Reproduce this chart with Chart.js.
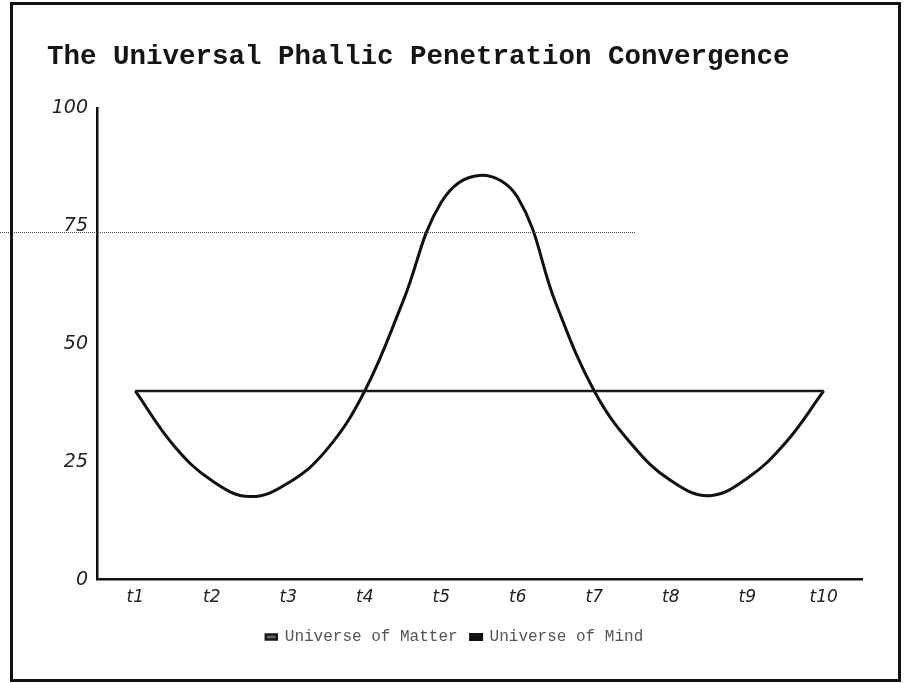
<!DOCTYPE html>
<html>
<head>
<meta charset="utf-8">
<script src="https://cdn.jsdelivr.net/npm/chart.js@4/dist/chart.umd.min.js"></script>
<style>
  html, body { margin: 0; padding: 0; background: #fff; }
  #wrap { position: relative; width: 904px; height: 683px; }
  #frame { position: absolute; left: 10px; top: 2px; width: 885px; height: 674px; border: 3px solid #111; pointer-events: none; }
  #dots { position: absolute; left: 0; top: 232px; width: 635px; height: 0; border-top: 1px dotted #444; pointer-events: none; }
</style>
</head>
<body>
<div id="wrap">
  <canvas id="myChart"></canvas>
  <div id="dots"></div>
  <div id="frame"></div>
</div>
<script>
// данные графика
const categories = ['t1', 't2', 't3', 't4', 't5', 't6', 't7', 't8', 't9', 't10'];
const matterValues = [40, 40, 40, 40, 40, 40, 40, 40, 40, 40]; // Universe of Matter
// Universe of Mind, снято с картинки через каждые пол-шага
const mindSteps = [1, 1.5, 2, 2.5, 3, 3.5, 4, 4.5, 5, 5.5, 6, 6.5, 7, 7.5, 8, 8.5, 9, 9.5, 10];
const mindValues = [40, 28.5, 21, 17.6, 20.5, 27.5, 40, 59, 80, 85.7, 81, 58.5, 40, 28.5, 21, 17.8, 21.5, 29, 40];
const yTicks = [0, 25, 50, 75, 100];

const ctx = document.getElementById('myChart').getContext('2d');
const chart = new Chart(ctx, {
    type: 'line',
    data: {
        datasets: [{
            label: 'Universe of Matter',
            data: matterValues.map((v, i) => ({ x: i + 1, y: v })),
            borderColor: '#1a1a1a',
            backgroundColor: '#666',
            borderWidth: 2.5,
            pointRadius: 0,
            tension: 0
        }, {
            label: 'Universe of Mind',
            data: mindValues.map((v, i) => ({ x: mindSteps[i], y: v })),
            borderColor: '#111',
            backgroundColor: '#111',
            borderWidth: 3,
            pointRadius: 0,
            tension: 0.4
        }]
    },
    options: {
        responsive: true,
        maintainAspectRatio: false,
        animation: false,
        layout: { padding: { left: 47, right: 42, top: 0, bottom: 28 } },
        plugins: {
            title: {
                display: true,
                text: 'The Universal Phallic Penetration Convergence',
                align: 'start',
                color: '#151515',
                font: { family: '"Liberation Mono", monospace', size: 27.5, weight: 'bold' },
                padding: { top: 41, bottom: 34 }
            },
            legend: {
                position: 'bottom',
                labels: {
                    color: '#555',
                    font: { family: '"Liberation Mono", monospace', size: 16 },
                    boxWidth: 11,
                    boxHeight: 5,
                    padding: 13
                }
            },
            tooltip: { enabled: false }
        },
        scales: {
            x: {
                type: 'linear',
                min: 0.5,
                max: 10.5,
                afterBuildTicks: (scale) => { scale.ticks = categories.map((c, i) => ({ value: i + 1 })); },
                grid: { display: false, drawTicks: false },
                border: { display: true, color: '#111', width: 2.5 },
                ticks: {
                    color: '#222',
                    padding: 8,
                    callback: (v) => categories[Math.round(v) - 1],
                    font: { family: '"DejaVu Sans", sans-serif', size: 17, style: 'italic' }
                }
            },
            y: {
                min: 0,
                max: 100,
                afterFit: (scale) => { scale.width = 50; },
                afterBuildTicks: (scale) => { scale.ticks = yTicks.map(v => ({ value: v })); },
                grid: { display: false, drawTicks: false },
                border: { display: true, color: '#111', width: 2.5 },
                ticks: {
                    color: '#222',
                    padding: 9,
                    font: { family: '"DejaVu Sans", sans-serif', size: 19, style: 'italic' }
                }
            }
        }
    }
});
</script>
</body>
</html>
